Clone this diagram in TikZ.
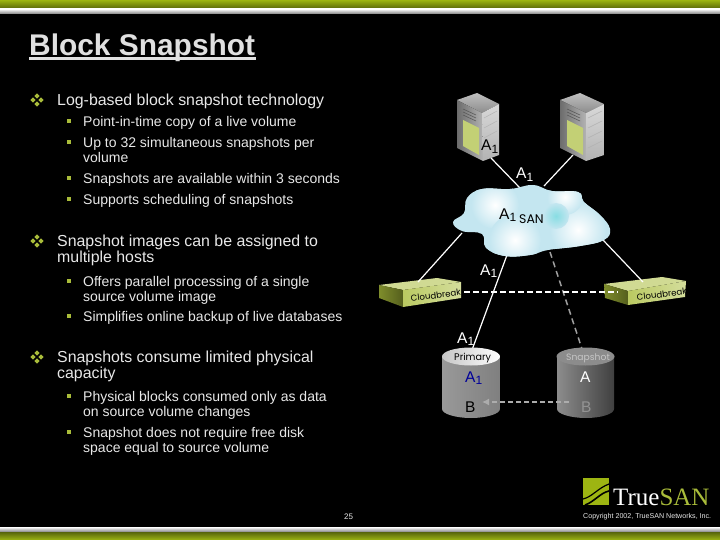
\documentclass[tikz,border=0pt]{standalone}
\usepackage{fontspec}
\setmainfont{Liberation Sans}
\newfontfamily\roundfont{Poppins}
\newfontfamily\logofont{Liberation Serif}
\usetikzlibrary{arrows.meta,positioning}
\definecolor{lime}{HTML}{9DB512}
\definecolor{olive}{HTML}{A9BC3A}
\definecolor{paper}{HTML}{E8E8E8}
\definecolor{cloudblue}{HTML}{C4E6F0}
\newcommand{\Aone}{A\raisebox{-0.35ex}{\fontsize{12}{12}\selectfont 1}}
\tikzset{
  every node/.style={inner sep=0pt,anchor=base west},
  titletext/.style={text=black!12,font=\fontsize{29.9}{30}\selectfont\bfseries},
  levelone/.style={text=paper,yshift=-0.5pt,font=\fontsize{15.9}{16.5}\selectfont},
  leveltwo/.style={text=paper,yshift=-0.5pt,font=\fontsize{14}{15}\selectfont},
  labeltext/.style={text=white,font=\fontsize{15.5}{16}\selectfont},
  cable/.style={draw=white,line width=1.2pt},
  dashwhite/.style={draw=white,line width=1.3pt,dash pattern=on 6pt off 3pt},
  dashgrey/.style={draw=gray!75,line width=1.5pt,dash pattern=on 6pt off 4pt},
}
\begin{document}
\begin{tikzpicture}[x=1pt,y=-1pt]
\useasboundingbox (0,0) rectangle (720,540);
\fill[black] (0,0) rectangle (720,540);

% Top and bottom bars
\shade[top color=lime,bottom color=lime!55!black] (0,0) rectangle (720,9);
\shade[top color=white,bottom color=gray] (0,9) rectangle (720,14);
\shade[top color=white,bottom color=gray] (0,527) rectangle (720,532);
\shade[top color=lime!55!black,bottom color=lime] (0,532) rectangle (720,540);

% Title
\node[titletext] (title) at (29,56) {Block Snapshot};
\fill[black!12] (29,57.5) rectangle (256,60);

% Bullets, level one
\foreach \ypos in {100,241,357} {
  \foreach \dx/\dy in {0/-4,-4/0,4/0,0/4}
    \fill[olive] (37+\dx,\ypos+\dy) +(0,-2.6) -- +(2.6,0) -- +(0,2.6) -- +(-2.6,0) -- cycle;
}
% Bullets, level two
\foreach \ypos in {121,142,178,199,281,316,396,432}
  \fill[olive] (66.5,\ypos-2) rectangle +(4,4);

% Text of the slide
\node[levelone] (logbased) at (57,105) {Log-based block snapshot technology};
\node[leveltwo] (pointin) at (83,126) {Point-in-time copy of a live volume};
\node[leveltwo] (upto) at (83,147) {Up to 32 simultaneous snapshots per};
\node[leveltwo] (uptotwo) at (83,162) {volume};
\node[leveltwo] (available) at (83,183) {Snapshots are available within 3 seconds};
\node[leveltwo] (supports) at (83,204) {Supports scheduling of snapshots};
\node[levelone] (images) at (57,246) {Snapshot images can be assigned to};
\node[levelone] (imagestwo) at (57,262) {multiple hosts};
\node[leveltwo] (offers) at (83,286) {Offers parallel processing of a single};
\node[leveltwo] (offerstwo) at (83,301) {source volume image};
\node[leveltwo] (simplifies) at (83,321) {Simplifies online backup of live databases};
\node[levelone] (consume) at (57,362) {Snapshots consume limited physical};
\node[levelone] (consumetwo) at (57,378) {capacity};
\node[leveltwo] (physical) at (83,401) {Physical blocks consumed only as data};
\node[leveltwo] (physicaltwo) at (83,416) {on source volume changes};
\node[leveltwo] (freedisk) at (83,437) {Snapshot does not require free disk};
\node[leveltwo] (freedisktwo) at (83,452) {space equal to source volume};
\node[text=paper,font=\fontsize{8}{8}\selectfont] (pagenum) at (344,519) {25};

% Connector ends
\coordinate (srvA) at (491,158);
\coordinate (srvB) at (573,155);
\coordinate (cloudA) at (520,188);
\coordinate (cloudB) at (544,186);
\coordinate (cloudC) at (462,233);
\coordinate (cloudD) at (603,240);
\coordinate (cloudE) at (507,255);
\coordinate (cloudF) at (550,252);
\coordinate (cbreakA) at (418,282);
\coordinate (cbreakB) at (643,282);
\coordinate (cbreakC) at (464,292);
\coordinate (cbreakD) at (618,292);
\coordinate (primaryTop) at (472,350);
\coordinate (snapTop) at (583,352);
\coordinate (primaryB) at (482,402);
\coordinate (snapB) at (569,402);

% Left server
\shade[top color=gray!50,bottom color=gray!90] (457,100) -- (477,93) -- (499,104) -- (482,113) -- cycle;
\shade[left color=gray!85!black,right color=gray!60] (457,100) -- (482,113) -- (483,161) -- (457,148) -- cycle;
\shade[top color=gray!30,bottom color=gray!60] (482,113) -- (499,104) -- (499,155) -- (483,161) -- cycle;
\fill[olive!70!white] (463,120) -- (479,128) -- (479,155) -- (463,146) -- cycle;
\draw[gray!70!black,line width=.6pt] (463,109) -- (476,115) (463,112) -- (476,118) (463,115) -- (476,121);
\draw[gray!60,line width=.5pt] (484,118) -- (497,111) (484,128) -- (497,121) (484,138) -- (497,131);
% Right server
\shade[top color=gray!50,bottom color=gray!90] (560,100) -- (580,93) -- (604,104) -- (586,113) -- cycle;
\shade[left color=gray!85!black,right color=gray!60] (560,100) -- (586,113) -- (586,161) -- (560,148) -- cycle;
\shade[top color=gray!30,bottom color=gray!60] (586,113) -- (604,104) -- (604,155) -- (586,161) -- cycle;
\fill[olive!70!white] (567,120) -- (583,128) -- (583,155) -- (567,146) -- cycle;
\draw[gray!70!black,line width=.6pt] (567,109) -- (580,115) (567,112) -- (580,118) (567,115) -- (580,121);
\draw[gray!60,line width=.5pt] (588,118) -- (602,111) (588,128) -- (602,121) (588,138) -- (602,131) (588,148) -- (602,141);

% Cloudbreak boxes
\fill[olive!55!white] (379,285) -- (437,278) -- (461,282) -- (403,290) -- cycle;
\shade[left color=olive!75!black,right color=olive!50!black] (379,285) -- (403,290) -- (403,307) -- (379,298) -- cycle;
\shade[left color=olive!80!white,right color=olive!50!white] (403,290) -- (461,282) -- (461,298) -- (403,307) -- cycle;
\fill[olive!55!white] (604,284) -- (662,277) -- (686,281) -- (628,291) -- cycle;
\shade[left color=olive!75!black,right color=olive!50!black] (604,284) -- (628,291) -- (628,305) -- (605,298) -- cycle;
\shade[left color=olive!80!white,right color=olive!50!white] (628,291) -- (686,281) -- (685,297) -- (628,305) -- cycle;
\node[rotate=7,text=black,font=\roundfont\fontsize{8.6}{9}\selectfont] (cbreakleft) at (411,301.5) {Cloudbreak};
\node[rotate=7,text=black,font=\roundfont\fontsize{8.6}{9}\selectfont] (cbreakright) at (637,300.5) {Cloudbreak};

% Connectors
\draw[cable] (srvA) -- (cloudA);
\draw[cable] (srvB) -- (cloudB);
\draw[cable] (cloudC) -- (cbreakA);
\draw[cable] (cloudD) -- (cbreakB);
\draw[cable] (cloudE) -- (primaryTop);
\draw[dashgrey] (cloudF) -- (snapTop);
\draw[dashwhite] (cbreakC) -- (cbreakD);

% SAN cloud
\begin{scope}
\path[clip] plot[smooth cycle,tension=.7] coordinates {(453,222) (464,213) (467,198) (482,189) (510,189) (533,185) (552,191) (578,192) (584,202) (600,215) (610,229) (604,240) (580,246) (548,250) (530,255) (505,256) (486,248) (482,234) (462,231)};
\fill[cloudblue] (440,180) rectangle (620,260);
\shade[inner color=white,outer color=cloudblue] (495,205) circle (24);
\shade[inner color=white,outer color=cloudblue] (578,230) circle (28);
\shade[inner color=white,outer color=cloudblue] (515,240) circle (26);
\shade[inner color=white,outer color=cloudblue] (565,197) circle (18);
\shade[inner color=cloudblue!70!cyan!85!gray,outer color=cloudblue] (556,216) circle (13);
\end{scope}

% Primary disk
\shade[left color=gray!80,middle color=gray!15,right color=gray] (442,356) -- (442,409) .. controls (442,414) and (456,418) .. (471,418) .. controls (486,418) and (500,414) .. (500,409) -- (500,356) -- cycle;
\shade[left color=gray!45,right color=white] (471,356.5) ellipse [x radius=29,y radius=9];
% Snapshot disk
\shade[left color=gray!90,middle color=gray!90!black,right color=gray!50!black] (557,356) -- (557,409) .. controls (557,414) and (571,418) .. (586,418) .. controls (601,418) and (614,414) .. (614,409) -- (614,356) -- cycle;
\fill[gray!90] (585.5,356.5) ellipse [x radius=29,y radius=9];
\node[text=black,font=\roundfont\fontsize{9.6}{10}\selectfont] (primarylabel) at (454,360) {Primary};
\node[text=gray!45,font=\roundfont\fontsize{9.2}{10}\selectfont] (snaplabel) at (566,360) {Snapshot};

% Copy on write arrow
\draw[draw=gray!65,line width=1.4pt,dash pattern=on 5pt off 3pt,-{Latex[length=7pt,width=7pt]}] (snapB) -- (primaryB);

% Labels on the picture
\node[labeltext,text=black] (aserver) at (481,151) {\Aone};
\node[labeltext] (acable) at (516,179) {\Aone};
\node[labeltext,text=black] (acloud) at (499,219) {\Aone};
\node[text=black,font=\roundfont\fontsize{12.5}{13}\selectfont] (sanlabel) at (519,224) {SAN};
\node[labeltext] (aprimcable) at (480,275) {\Aone};
\node[labeltext] (adisk) at (457,343) {\Aone};
\node[labeltext,text=blue!60!black] (aprimary) at (465,382) {\Aone};
\node[labeltext] (asnap) at (580,382) {A};
\node[labeltext,text=black] (bprimary) at (465,412) {B};
\node[labeltext,text=gray!85] (bsnap) at (581,412) {B};

% Logo
\fill[lime] (583,478) rectangle (609,505);
\draw[black,line width=1.2pt] (583,499) .. controls (592,497) and (598,488) .. (609,484);
\draw[black,line width=1.6pt] (585,505) .. controls (594,502) and (600,493) .. (609,491);
\node[font=\logofont\fontsize{25}{27}\selectfont,text=white] (logo) at (613,505) {True\textcolor{olive}{SAN}};
\node[text=paper,font=\fontsize{7.1}{8}\selectfont] (copyright) at (583,518) {Copyright 2002, TrueSAN Networks, Inc.};
\end{tikzpicture}
\end{document}
